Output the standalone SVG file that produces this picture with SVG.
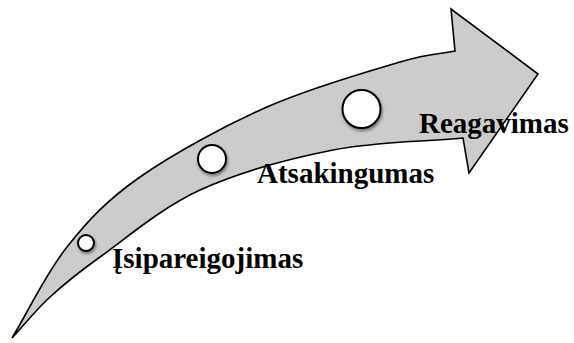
<svg xmlns="http://www.w3.org/2000/svg" width="574" height="343" viewBox="0 0 574 343">
<defs>
<filter id="sh" x="-50%" y="-50%" width="200%" height="200%">
<feDropShadow dx="1" dy="2" stdDeviation="1.5" flood-color="#000" flood-opacity="0.45"/>
</filter>
<style>
.arrow{fill:#cccccc;stroke:#000;stroke-width:1.6;stroke-linejoin:miter}
.dot{fill:#fff;stroke:#000;stroke-width:2;filter:url(#sh)}
.lbl{font-family:"Liberation Serif","Times New Roman",serif;font-weight:bold;font-size:29px;fill:#000}
</style>
</defs>
<rect width="574" height="343" fill="#fff"/>
<g id="arrow">
<path class="arrow" d="M12,338 C30.3,307.7 45.7,273.8 67,247 C88.3,220.2 106.7,200.3 140,177 C173.3,153.7 223.7,126.2 267,107 C310.3,87.8 368.7,71.3 400,62 C431.3,52.7 436.7,54.7 455,51 L451,9 L538,74 L469,173 L463,138 C419.7,142 376.8,141.3 333,150 C289.2,158.7 238.8,172.2 200,190 C161.2,207.8 125,239.2 100,257 C75,274.8 64.7,283.5 50,297 C35.3,310.5 24.7,324.3 12,338 Z"/>
</g>
<g id="node-isipareigojimas">
<circle class="dot" cx="86" cy="243" r="8"/>
<text class="lbl" x="112" y="268">Įsipareigojimas</text>
</g>
<g id="node-atsakingumas">
<circle class="dot" cx="212" cy="159" r="14"/>
<text class="lbl" x="257" y="183">Atsakingumas</text>
</g>
<g id="node-reagavimas">
<circle class="dot" cx="361.5" cy="109" r="19"/>
<text class="lbl" x="419" y="133">Reagavimas</text>
</g>
</svg>
